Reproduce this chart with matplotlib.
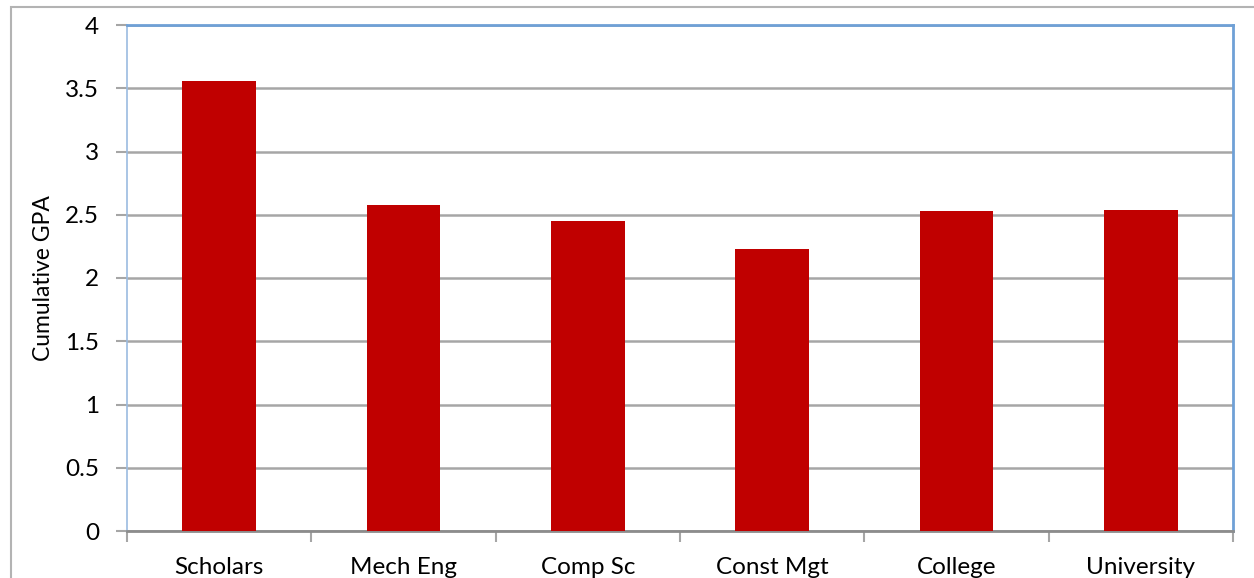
import matplotlib.pyplot as plt
import numpy as np
from matplotlib.patches import Rectangle

categories = ['Scholars', 'Mech Eng', 'Comp Sc', 'Const Mgt', 'College', 'University']
gpa = [3.56, 2.58, 2.45, 2.23, 2.53, 2.54]
y_ticks = [0, 0.5, 1, 1.5, 2, 2.5, 3, 3.5, 4]
y_tick_labels = ['0', '0.5', '1', '1.5', '2', '2.5', '3', '3.5', '4']


def main():
    plt.rcParams['font.family'] = ['Lato', 'DejaVu Sans']

    fig = plt.figure(figsize=(12.54, 5.78), dpi=100)
    W, H = 1254, 578
    # plot area in pixels: left 127, right 1233, top 25, bottom 531
    ax = fig.add_axes([127 / W, 1 - 531 / H, (1233 - 127) / W, (531 - 25) / H])

    # outer chart border (only top and left show)
    fig.patches.append(Rectangle((11 / W, -0.1), 1.2, 1 - 7 / H + 0.1,
                                 transform=fig.transFigure, fill=False,
                                 edgecolor='#b3b3b3', linewidth=1.5, zorder=0))

    index = np.arange(len(categories))
    ax.bar(index, gpa, 0.40, color='#c00000', zorder=3)

    ax.set_xlim(-0.5, len(categories) - 0.5)
    ax.set_ylim(0, 4)
    ax.set_yticks(y_ticks)
    ax.set_yticklabels(y_tick_labels)
    ax.yaxis.grid(True, color='#a6a6a6', linewidth=1.8, zorder=1)
    ax.set_axisbelow(True)

    # category boundary ticks on the x axis
    ax.set_xticks(np.arange(-0.5, len(categories)), minor=False)
    ax.set_xticklabels([])
    ax.set_xticks(index, minor=True)
    ax.set_xticklabels(categories, minor=True, fontsize=17.5)
    ax.tick_params(axis='x', which='major', length=8, width=1.5, color='#a6a6a6', direction='out')
    ax.tick_params(axis='x', which='minor', length=0, pad=19)
    ax.tick_params(axis='y', length=8, width=1.5, color='#a6a6a6', labelsize=17.5, pad=12)

    for side in ['top', 'right']:
        ax.spines[side].set_color('#6fa0d6')
        ax.spines[side].set_linewidth(2)
    ax.spines['left'].set_color('#9bbbe0')
    ax.spines['left'].set_linewidth(1.2)
    ax.spines['bottom'].set_color('#8c8c8c')
    ax.spines['bottom'].set_linewidth(2)

    ax.set_ylabel('Cumulative GPA', fontsize=16.5, labelpad=8)

    fig.savefig('out.png', dpi=100)


if __name__ == "__main__":
    main()
